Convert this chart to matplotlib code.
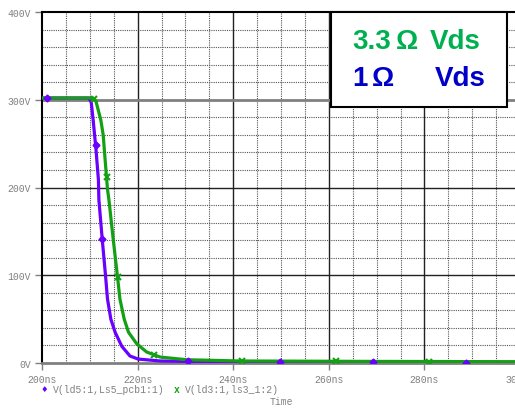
import numpy as np
import matplotlib.pyplot as plt
from matplotlib.patches import Rectangle

# Transient waveforms (time in ns, voltage in V)
t_1ohm = [200.0, 209.8, 210.3, 210.7, 211.3, 211.8, 211.9, 212.6, 213.3, 213.7,
          214.4, 215.3, 216.7, 218.4, 220.1, 224.7, 239.0, 260.0, 300.0]
v_1ohm = [302, 302, 297, 277, 243, 209, 186, 141, 99, 73,
          50, 35, 19, 8, 4.5, 2.3, 1.0, 0.6, 0.5]

t_33ohm = [200.0, 210.7, 211.3, 212.3, 212.8, 213.2, 213.7, 214.0, 214.9, 215.8,
           216.3, 217.2, 218.1, 219.8, 221.9, 224.7, 230.3, 241.4, 270.0, 300.0]
v_33ohm = [302, 302, 298, 277, 260, 232, 198, 186, 141, 98,
           73, 50, 35, 22, 12.5, 6.8, 3.7, 2.3, 1.8, 1.5]

# marker times along each trace
mk_1ohm = [201.0, 211.2, 212.6, 230.5, 249.8, 269.2, 288.7]
mk_33ohm = [210.9, 213.5, 215.8, 223.4, 241.8, 261.5, 281.0]

x_ticks = [200, 220, 240, 260, 280, 300]
x_labels = ["200ns", "220ns", "240ns", "260ns", "280ns", "300ns"]
y_ticks = [0, 100, 200, 300, 400]
y_labels = ["0V", "100V", "200V", "300V", "400V"]

purple = "#6a00ff"
green = "#14a014"
gray = "#808080"
mono = "Liberation Mono"

fig = plt.figure(figsize=(5.15, 4.1), dpi=100)
ax = fig.add_axes([42 / 515, 46 / 410, 478 / 515, 351 / 410])
ax.set_xlim(200, 300)
ax.set_ylim(0, 400)

# dotted minor grid
for x in np.arange(205, 300, 5):
    if x % 20:
        ax.axvline(x, color="#555555", lw=0.8, ls=(0, (1, 1)), zorder=1)
for y in np.arange(20, 400, 20):
    if y % 100:
        ax.axhline(y, color="#555555", lw=0.8, ls=(0, (1, 1)), zorder=1)
# solid major grid
for x in [220, 240, 260, 280]:
    ax.axvline(x, color="#222222", lw=1.0, zorder=1)
for y in [100, 200]:
    ax.axhline(y, color="#222222", lw=1.0, zorder=1)
ax.axhline(300, color="#808080", lw=2.0, zorder=1)

ax.plot(t_1ohm, v_1ohm, color=purple, lw=2.3, zorder=3)
ax.plot(t_33ohm, v_33ohm, color=green, lw=2.3, zorder=4)
ax.plot(mk_1ohm, np.interp(mk_1ohm, t_1ohm, v_1ohm), ls="none", marker="D",
        ms=3.5, color=purple, zorder=5)
ax.plot(mk_33ohm, np.interp(mk_33ohm, t_33ohm, v_33ohm), ls="none", marker="x",
        ms=4, mew=1.5, color=green, zorder=5)

for side in ["right"]:
    ax.spines[side].set_visible(False)
ax.spines["top"].set_color("black")
ax.spines["top"].set_linewidth(1.5)
ax.spines["left"].set_color("black")
ax.spines["left"].set_linewidth(1.5)
ax.spines["bottom"].set_color("#808080")
ax.spines["bottom"].set_linewidth(2.0)

ax.set_xticks(x_ticks)
ax.set_xticklabels(x_labels)
ax.set_yticks(y_ticks)
ax.set_yticklabels(y_labels)
ax.tick_params(axis="both", length=5, width=1, color=gray, labelcolor=gray,
               labelsize=7, pad=3)
for lab in ax.get_xticklabels() + ax.get_yticklabels():
    lab.set_family(mono)

# legend row below the axis
fig.text(44 / 515, 1 - 390 / 410, "\u2666", color=purple, fontsize=6,
         ha="center", va="center")
fig.text(53 / 515, 1 - 390 / 410, "V(ld5:1,Ls5_pcb1:1)", color=gray,
         fontsize=7, family=mono, va="center")
fig.text(177 / 515, 1 - 390 / 410, "x", color=green, fontsize=7,
         family=mono, fontweight="bold", ha="center", va="center")
fig.text(185 / 515, 1 - 390 / 410, "V(ld3:1,ls3_1:2)", color=gray,
         fontsize=7, family=mono, va="center")
fig.text(281 / 515, 1 - 402 / 410, "Time", color=gray, fontsize=7,
         family=mono, ha="center", va="center")

# annotation box
fig.patches.append(Rectangle((331 / 515, 1 - 108 / 410), 176 / 515, 95 / 410,
                             transform=fig.transFigure, facecolor="white",
                             edgecolor="black", lw=1.5, zorder=10))
box_font = dict(family="Liberation Sans", fontweight="bold", fontsize=20,
                va="center", zorder=11)
y1 = 1 - 42 / 410
y2 = 1 - 79 / 410
fig.text(352 / 515, y1, "3.3", color="#00b050", **box_font)
fig.text(396 / 515, y1, "\u03a9", color="#00b050", **box_font)
fig.text(430 / 515, y1, "Vds", color="#00b050", **box_font)
fig.text(352 / 515, y2, "1", color="#0000c8", **box_font)
fig.text(372 / 515, y2, "\u03a9", color="#0000c8", **box_font)
fig.text(435 / 515, y2, "Vds", color="#0000c8", **box_font)

fig.savefig("out.png", dpi=100)
